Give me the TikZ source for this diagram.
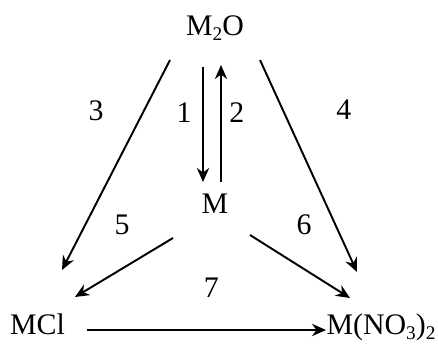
\documentclass[tikz,border=0pt]{standalone}
\usepackage{fontspec}
\setmainfont{Liberation Serif}
\usetikzlibrary{arrows.meta}
\newcommand{\chemsub}[1]{\raisebox{-0.2em}{\fontsize{11}{11}\selectfont #1}}

\begin{document}
\begin{tikzpicture}[x=0.02cm,y=-0.02cm,line width=1.1pt,>={Stealth[length=8pt,width=7pt]},
    every node/.style={font=\fontsize{17}{20}\selectfont},
    chem/.style={anchor=base,inner sep=0pt},
    num/.style={inner sep=0pt}]
    \useasboundingbox (0,0) rectangle (438,345);
    \node[chem] (o) at (215,35) {M\chemsub{2}O}; \node[chem] (m) at (215,213)
    {M}; \node[chem] (mcl) at (37.5,334)
    {MCl}; \node[chem] (n) at (381,334)
    {M(NO\chemsub{3})\chemsub{2}};
    \draw[->] ([shift={(-12,32)}]o.base) -- ([shift={(-12,-31)}]m.base) node[num, pos=0.4, left=0.21cm]
    {1}; \draw[->] ([shift={(6,-31)}]m.base) -- ([shift={(6,30)}]o.base) node[num, pos=0.59, right=0.15cm]
    {2}; \draw[->] ([shift={(-45,25)}]o.base) -- ([shift={(24.5,-64)}]mcl.base) node[num, pos=0.24, left=0.79cm]
    {3}; \draw[->] ([shift={(45,25)}]o.base) -- ([shift={(-24,-62)}]n.base) node[num, pos=0.236, right=1.05cm]
    {4}; \draw[->] ([shift={(-42,25)}]m.base) -- ([shift={(37.5,-37)}]mcl.base) node[num, pos=0.52, above=0.65cm]
    {5}; \draw[->] ([shift={(35,22)}]m.base) -- ([shift={(-31,-36)}]n.base) node[num, pos=0.54, above=0.66cm]
    {6}; \draw[->] ([shift={(49.5,-4)}]mcl.base) -- ([shift={(-55,-4)}]n.base) node[num, pos=0.52, above=0.64cm]
    {7};
  \end{tikzpicture}
\end{document}
